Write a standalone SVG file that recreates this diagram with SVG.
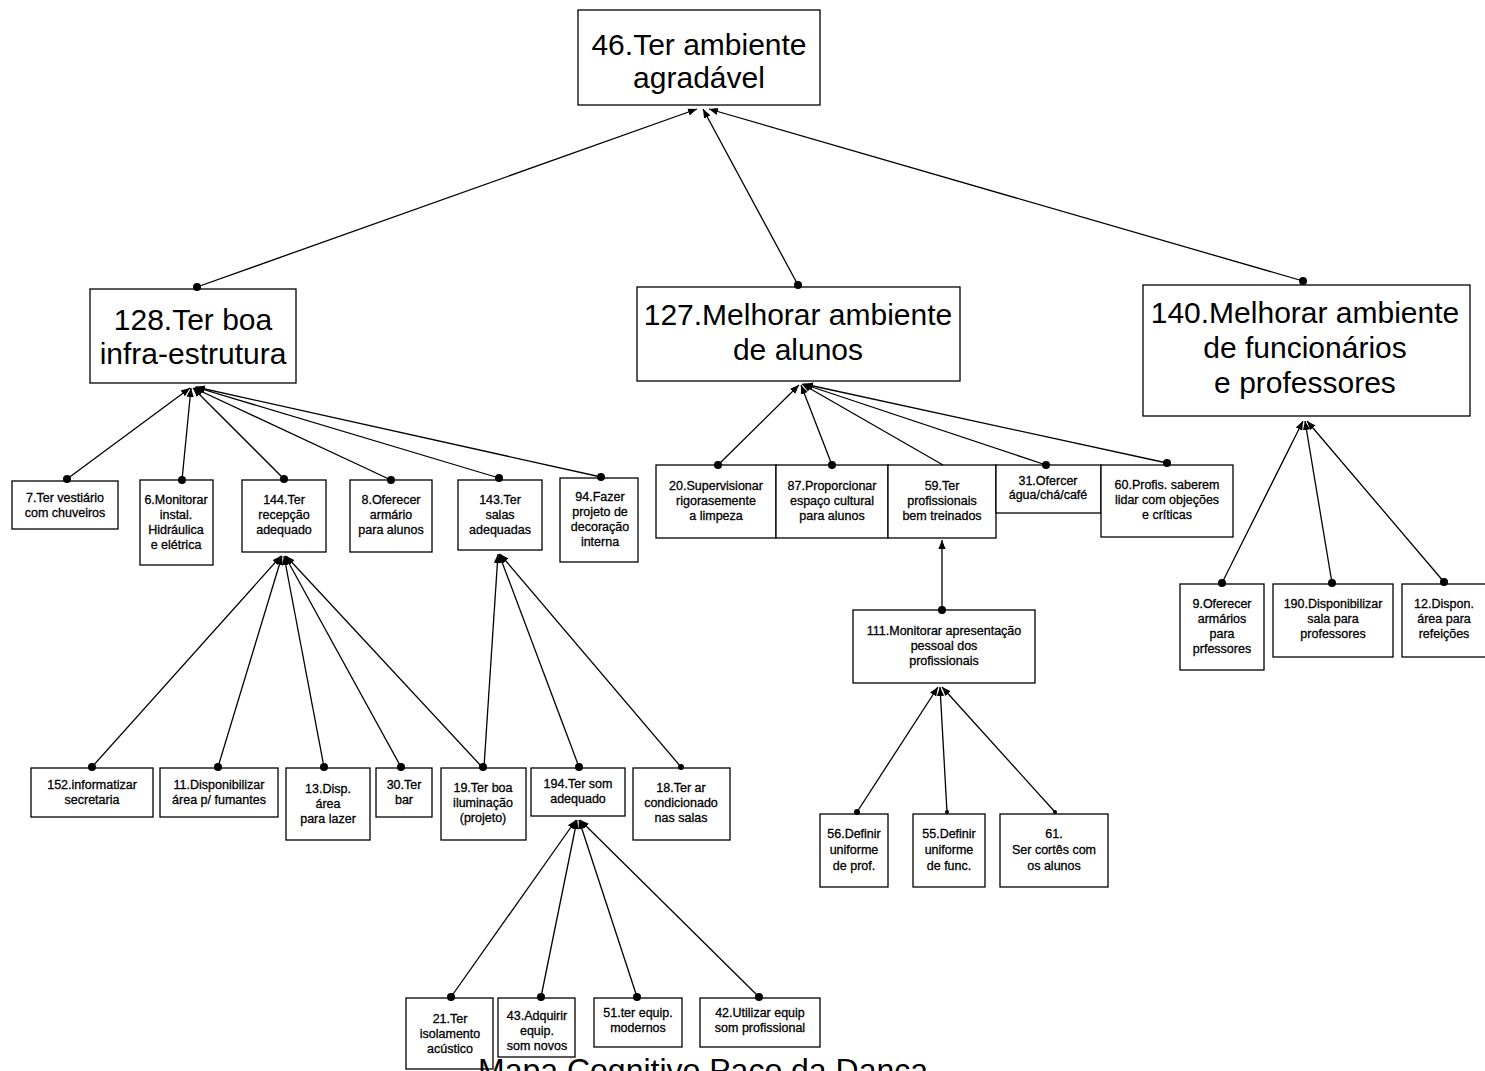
<svg xmlns="http://www.w3.org/2000/svg" width="1485" height="1071" viewBox="0 0 1485 1071">
<defs>
<style>
.box{fill:#fff;stroke:#000;stroke-width:1.3}
.big{font-family:"Liberation Sans",Arial,sans-serif;font-size:30px;fill:#000;text-anchor:middle}
.sm{font-family:"Liberation Sans",Arial,sans-serif;font-size:12.5px;fill:#000;text-anchor:middle;stroke:#000;stroke-width:0.3}
.ln{stroke:#000;stroke-width:1.3;fill:none;marker-end:url(#arr)}
.dot{fill:#000}
</style>
<marker id="arr" viewBox="0 0 10 10" refX="10" refY="5" markerWidth="9" markerHeight="9" orient="auto" markerUnits="userSpaceOnUse"><path d="M0,1 L10,5 L0,9 z" fill="#000"/></marker>
</defs>
<rect width="1485" height="1071" fill="#fff"/>

<g id="n46"><rect class="box" x="578" y="10" width="242" height="95"/><text class="big" x="699" y="55">46.Ter ambiente</text><text class="big" x="699" y="88">agradável</text></g>
<g id="n128"><rect class="box" x="90" y="289" width="206" height="94"/><text class="big" x="193" y="330">128.Ter boa</text><text class="big" x="193" y="364">infra-estrutura</text></g>
<g id="n127"><rect class="box" x="637" y="287" width="323" height="94"/><text class="big" x="798" y="325">127.Melhorar ambiente</text><text class="big" x="798" y="360">de alunos</text></g>
<g id="n140"><rect class="box" x="1143" y="285" width="327" height="131"/><text class="big" x="1305" y="323">140.Melhorar ambiente</text><text class="big" x="1305" y="358">de funcionários</text><text class="big" x="1305" y="393">e professores</text></g>

<g id="n7"><rect class="box" x="12" y="481" width="106" height="48"/><text class="sm" x="65" y="502">7.Ter  vestiário</text><text class="sm" x="65" y="517">com chuveiros</text></g>
<g id="n6"><rect class="box" x="140" y="480" width="73" height="85"/><text class="sm" x="176" y="504">6.Monitorar</text><text class="sm" x="176" y="519">instal.</text><text class="sm" x="176" y="534">Hidráulica</text><text class="sm" x="176" y="549">e elétrica</text></g>
<g id="n144"><rect class="box" x="242" y="480" width="84" height="72"/><text class="sm" x="284" y="504">144.Ter</text><text class="sm" x="284" y="519">recepção</text><text class="sm" x="284" y="534">adequado</text></g>
<g id="n8"><rect class="box" x="350" y="480" width="82" height="72"/><text class="sm" x="391" y="504">8.Oferecer</text><text class="sm" x="391" y="519">armário</text><text class="sm" x="391" y="534">para  alunos</text></g>
<g id="n143"><rect class="box" x="458" y="480" width="84" height="70"/><text class="sm" x="500" y="504">143.Ter</text><text class="sm" x="500" y="519">salas</text><text class="sm" x="500" y="534">adequadas</text></g>
<g id="n94"><rect class="box" x="560" y="478" width="78" height="84"/><text class="sm" x="600" y="501">94.Fazer</text><text class="sm" x="600" y="516">projeto de</text><text class="sm" x="600" y="531">decoração</text><text class="sm" x="600" y="546">interna</text></g>

<g id="n20"><rect class="box" x="656" y="465" width="120" height="73"/><text class="sm" x="716" y="490">20.Supervisionar</text><text class="sm" x="716" y="505">rigorasemente</text><text class="sm" x="716" y="520">a limpeza</text></g>
<g id="n87"><rect class="box" x="776" y="465" width="112" height="73"/><text class="sm" x="832" y="490">87.Proporcionar</text><text class="sm" x="832" y="505">espaço  cultural</text><text class="sm" x="832" y="520">para  alunos</text></g>
<g id="n59"><rect class="box" x="888" y="465" width="108" height="73"/><text class="sm" x="942" y="490">59.Ter</text><text class="sm" x="942" y="505">profissionais</text><text class="sm" x="942" y="520">bem treinados</text></g>
<g id="n31"><rect class="box" x="996" y="465" width="105" height="48"/><text class="sm" x="1048" y="485">31.Ofercer</text><text class="sm" x="1048" y="499">água/chá/café</text></g>
<g id="n60"><rect class="box" x="1101" y="465" width="132" height="72"/><text class="sm" x="1167" y="489">60.Profis. saberem</text><text class="sm" x="1167" y="504">lidar com objeções</text><text class="sm" x="1167" y="519">e críticas</text></g>

<g id="n111"><rect class="box" x="853" y="610" width="182" height="73"/><text class="sm" x="944" y="635">111.Monitorar  apresentação</text><text class="sm" x="944" y="650">pessoal dos</text><text class="sm" x="944" y="665">profissionais</text></g>
<g id="n56"><rect class="box" x="820" y="814" width="68" height="73"/><text class="sm" x="854" y="838">56.Definir</text><text class="sm" x="854" y="854">uniforme</text><text class="sm" x="854" y="870">de prof.</text></g>
<g id="n55"><rect class="box" x="913" y="814" width="72" height="73"/><text class="sm" x="949" y="838">55.Definir</text><text class="sm" x="949" y="854">uniforme</text><text class="sm" x="949" y="870">de func.</text></g>
<g id="n61"><rect class="box" x="1000" y="814" width="108" height="73"/><text class="sm" x="1054" y="838">61.</text><text class="sm" x="1054" y="854">Ser cortês com</text><text class="sm" x="1054" y="870">os alunos</text></g>

<g id="n9"><rect class="box" x="1180" y="584" width="84" height="86"/><text class="sm" x="1222" y="608">9.Oferecer</text><text class="sm" x="1222" y="623">armários</text><text class="sm" x="1222" y="638">para</text><text class="sm" x="1222" y="653">prfessores</text></g>
<g id="n190"><rect class="box" x="1273" y="584" width="120" height="73"/><text class="sm" x="1333" y="608">190.Disponibilizar</text><text class="sm" x="1333" y="623">sala para</text><text class="sm" x="1333" y="638">professores</text></g>
<g id="n12"><rect class="box" x="1402" y="584" width="90" height="73"/><text class="sm" x="1444" y="608">12.Dispon.</text><text class="sm" x="1444" y="623">área para</text><text class="sm" x="1444" y="638">refeições</text></g>

<g id="n152"><rect class="box" x="31" y="768" width="122" height="49"/><text class="sm" x="92" y="789">152.informatizar</text><text class="sm" x="92" y="804">secretaria</text></g>
<g id="n11"><rect class="box" x="160" y="768" width="118" height="49"/><text class="sm" x="219" y="789">11.Disponibilizar</text><text class="sm" x="219" y="804">área p/ fumantes</text></g>
<g id="n13"><rect class="box" x="286" y="768" width="84" height="72"/><text class="sm" x="328" y="793">13.Disp.</text><text class="sm" x="328" y="808">área</text><text class="sm" x="328" y="823">para lazer</text></g>
<g id="n30"><rect class="box" x="376" y="768" width="56" height="49"/><text class="sm" x="404" y="789">30.Ter</text><text class="sm" x="404" y="804">bar</text></g>
<g id="n19"><rect class="box" x="441" y="768" width="85" height="72"/><text class="sm" x="483" y="792">19.Ter boa</text><text class="sm" x="483" y="807">iluminação</text><text class="sm" x="483" y="822">(projeto)</text></g>
<g id="n194"><rect class="box" x="531" y="768" width="94" height="48"/><text class="sm" x="578" y="788">194.Ter som</text><text class="sm" x="578" y="803">adequado</text></g>
<g id="n18"><rect class="box" x="633" y="768" width="97" height="72"/><text class="sm" x="681" y="792">18.Ter ar</text><text class="sm" x="681" y="807">condicionado</text><text class="sm" x="681" y="822">nas salas</text></g>

<g id="n21"><rect class="box" x="406" y="998" width="87" height="71"/><text class="sm" x="450" y="1023">21.Ter</text><text class="sm" x="450" y="1038">isolamento</text><text class="sm" x="450" y="1053">acústico</text></g>
<g id="n43"><rect class="box" x="498" y="998" width="77" height="59"/><text class="sm" x="537" y="1020">43.Adquirir</text><text class="sm" x="537" y="1035">equip.</text><text class="sm" x="537" y="1050">som novos</text></g>
<g id="n51"><rect class="box" x="594" y="998" width="88" height="49"/><text class="sm" x="638" y="1017">51.ter equip.</text><text class="sm" x="638" y="1032">modernos</text></g>
<g id="n42"><rect class="box" x="700" y="998" width="120" height="49"/><text class="sm" x="760" y="1017">42.Utilizar  equip</text><text class="sm" x="760" y="1032">som  profissional</text></g>

<g id="connectors">
<line class="ln" x1="197" y1="287" x2="697" y2="109"/>
<line class="ln" x1="798" y1="285" x2="703" y2="109"/>
<line class="ln" x1="1303" y1="281" x2="709" y2="109"/>

<line class="ln" x1="67" y1="479" x2="190" y2="388"/>
<line class="ln" x1="182" y1="480" x2="191" y2="388"/>
<line class="ln" x1="284" y1="479" x2="193" y2="388"/>
<line class="ln" x1="391" y1="480" x2="194" y2="388"/>
<line class="ln" x1="499" y1="478" x2="195" y2="387"/>
<line class="ln" x1="601" y1="477" x2="196" y2="387"/>

<line class="ln" x1="718" y1="465" x2="799" y2="385"/>
<line class="ln" x1="832" y1="465" x2="801" y2="385"/>
<line class="ln" x1="943" y1="465" x2="802" y2="384"/>
<line class="ln" x1="1046" y1="465" x2="803" y2="384"/>
<line class="ln" x1="1167" y1="463" x2="804" y2="384"/>

<line class="ln" x1="942" y1="610" x2="942" y2="540"/>

<line class="ln" x1="857" y1="812" x2="938" y2="687"/>
<line class="ln" x1="947" y1="812" x2="940" y2="687"/>
<line class="ln" x1="1055" y1="812" x2="942" y2="687"/>

<line class="ln" x1="1222" y1="583" x2="1303" y2="421"/>
<line class="ln" x1="1332" y1="583" x2="1305" y2="421"/>
<line class="ln" x1="1444" y1="582" x2="1307" y2="421"/>

<line class="ln" x1="92" y1="767" x2="281" y2="556"/>
<line class="ln" x1="218" y1="767" x2="282" y2="556"/>
<line class="ln" x1="324" y1="767" x2="284" y2="556"/>
<line class="ln" x1="401" y1="767" x2="285" y2="556"/>
<line class="ln" x1="482" y1="767" x2="286" y2="556"/>

<line class="ln" x1="484" y1="767" x2="498" y2="554"/>
<line class="ln" x1="579" y1="767" x2="499" y2="554"/>
<line class="ln" x1="681" y1="767" x2="500" y2="554"/>

<line class="ln" x1="451" y1="997" x2="576" y2="820"/>
<line class="ln" x1="541" y1="997" x2="577" y2="820"/>
<line class="ln" x1="637" y1="997" x2="579" y2="820"/>
<line class="ln" x1="759" y1="997" x2="580" y2="820"/>

<g class="dot">
<circle cx="197" cy="287" r="4"/><circle cx="798" cy="285" r="4"/><circle cx="1303" cy="281" r="4"/>
<circle cx="67" cy="479" r="4"/><circle cx="182" cy="480" r="4"/><circle cx="284" cy="479" r="4"/><circle cx="391" cy="480" r="4"/><circle cx="499" cy="478" r="4"/><circle cx="601" cy="477" r="4"/>
<circle cx="718" cy="465" r="4"/><circle cx="832" cy="465" r="4"/><circle cx="1046" cy="465" r="4"/><circle cx="1167" cy="463" r="4"/>
<circle cx="942" cy="610" r="4"/>
<circle cx="857" cy="812" r="3"/><circle cx="947" cy="812" r="2"/><circle cx="1055" cy="812" r="2"/>
<circle cx="1222" cy="583" r="4"/><circle cx="1332" cy="583" r="4"/><circle cx="1444" cy="582" r="4"/>
<circle cx="92" cy="767" r="4"/><circle cx="218" cy="767" r="4"/><circle cx="324" cy="767" r="4"/><circle cx="401" cy="767" r="4"/><circle cx="483" cy="767" r="4"/>
<circle cx="579" cy="767" r="4"/><circle cx="681" cy="767" r="3"/>
<circle cx="451" cy="997" r="4"/><circle cx="541" cy="997" r="4"/><circle cx="637" cy="997" r="4"/><circle cx="759" cy="997" r="4"/>
</g>
</g>

<text x="478" y="1081" font-family="Liberation Sans, Arial, sans-serif" font-size="32" fill="#000">Mapa Cognitivo Paço da Dança</text>
</svg>
